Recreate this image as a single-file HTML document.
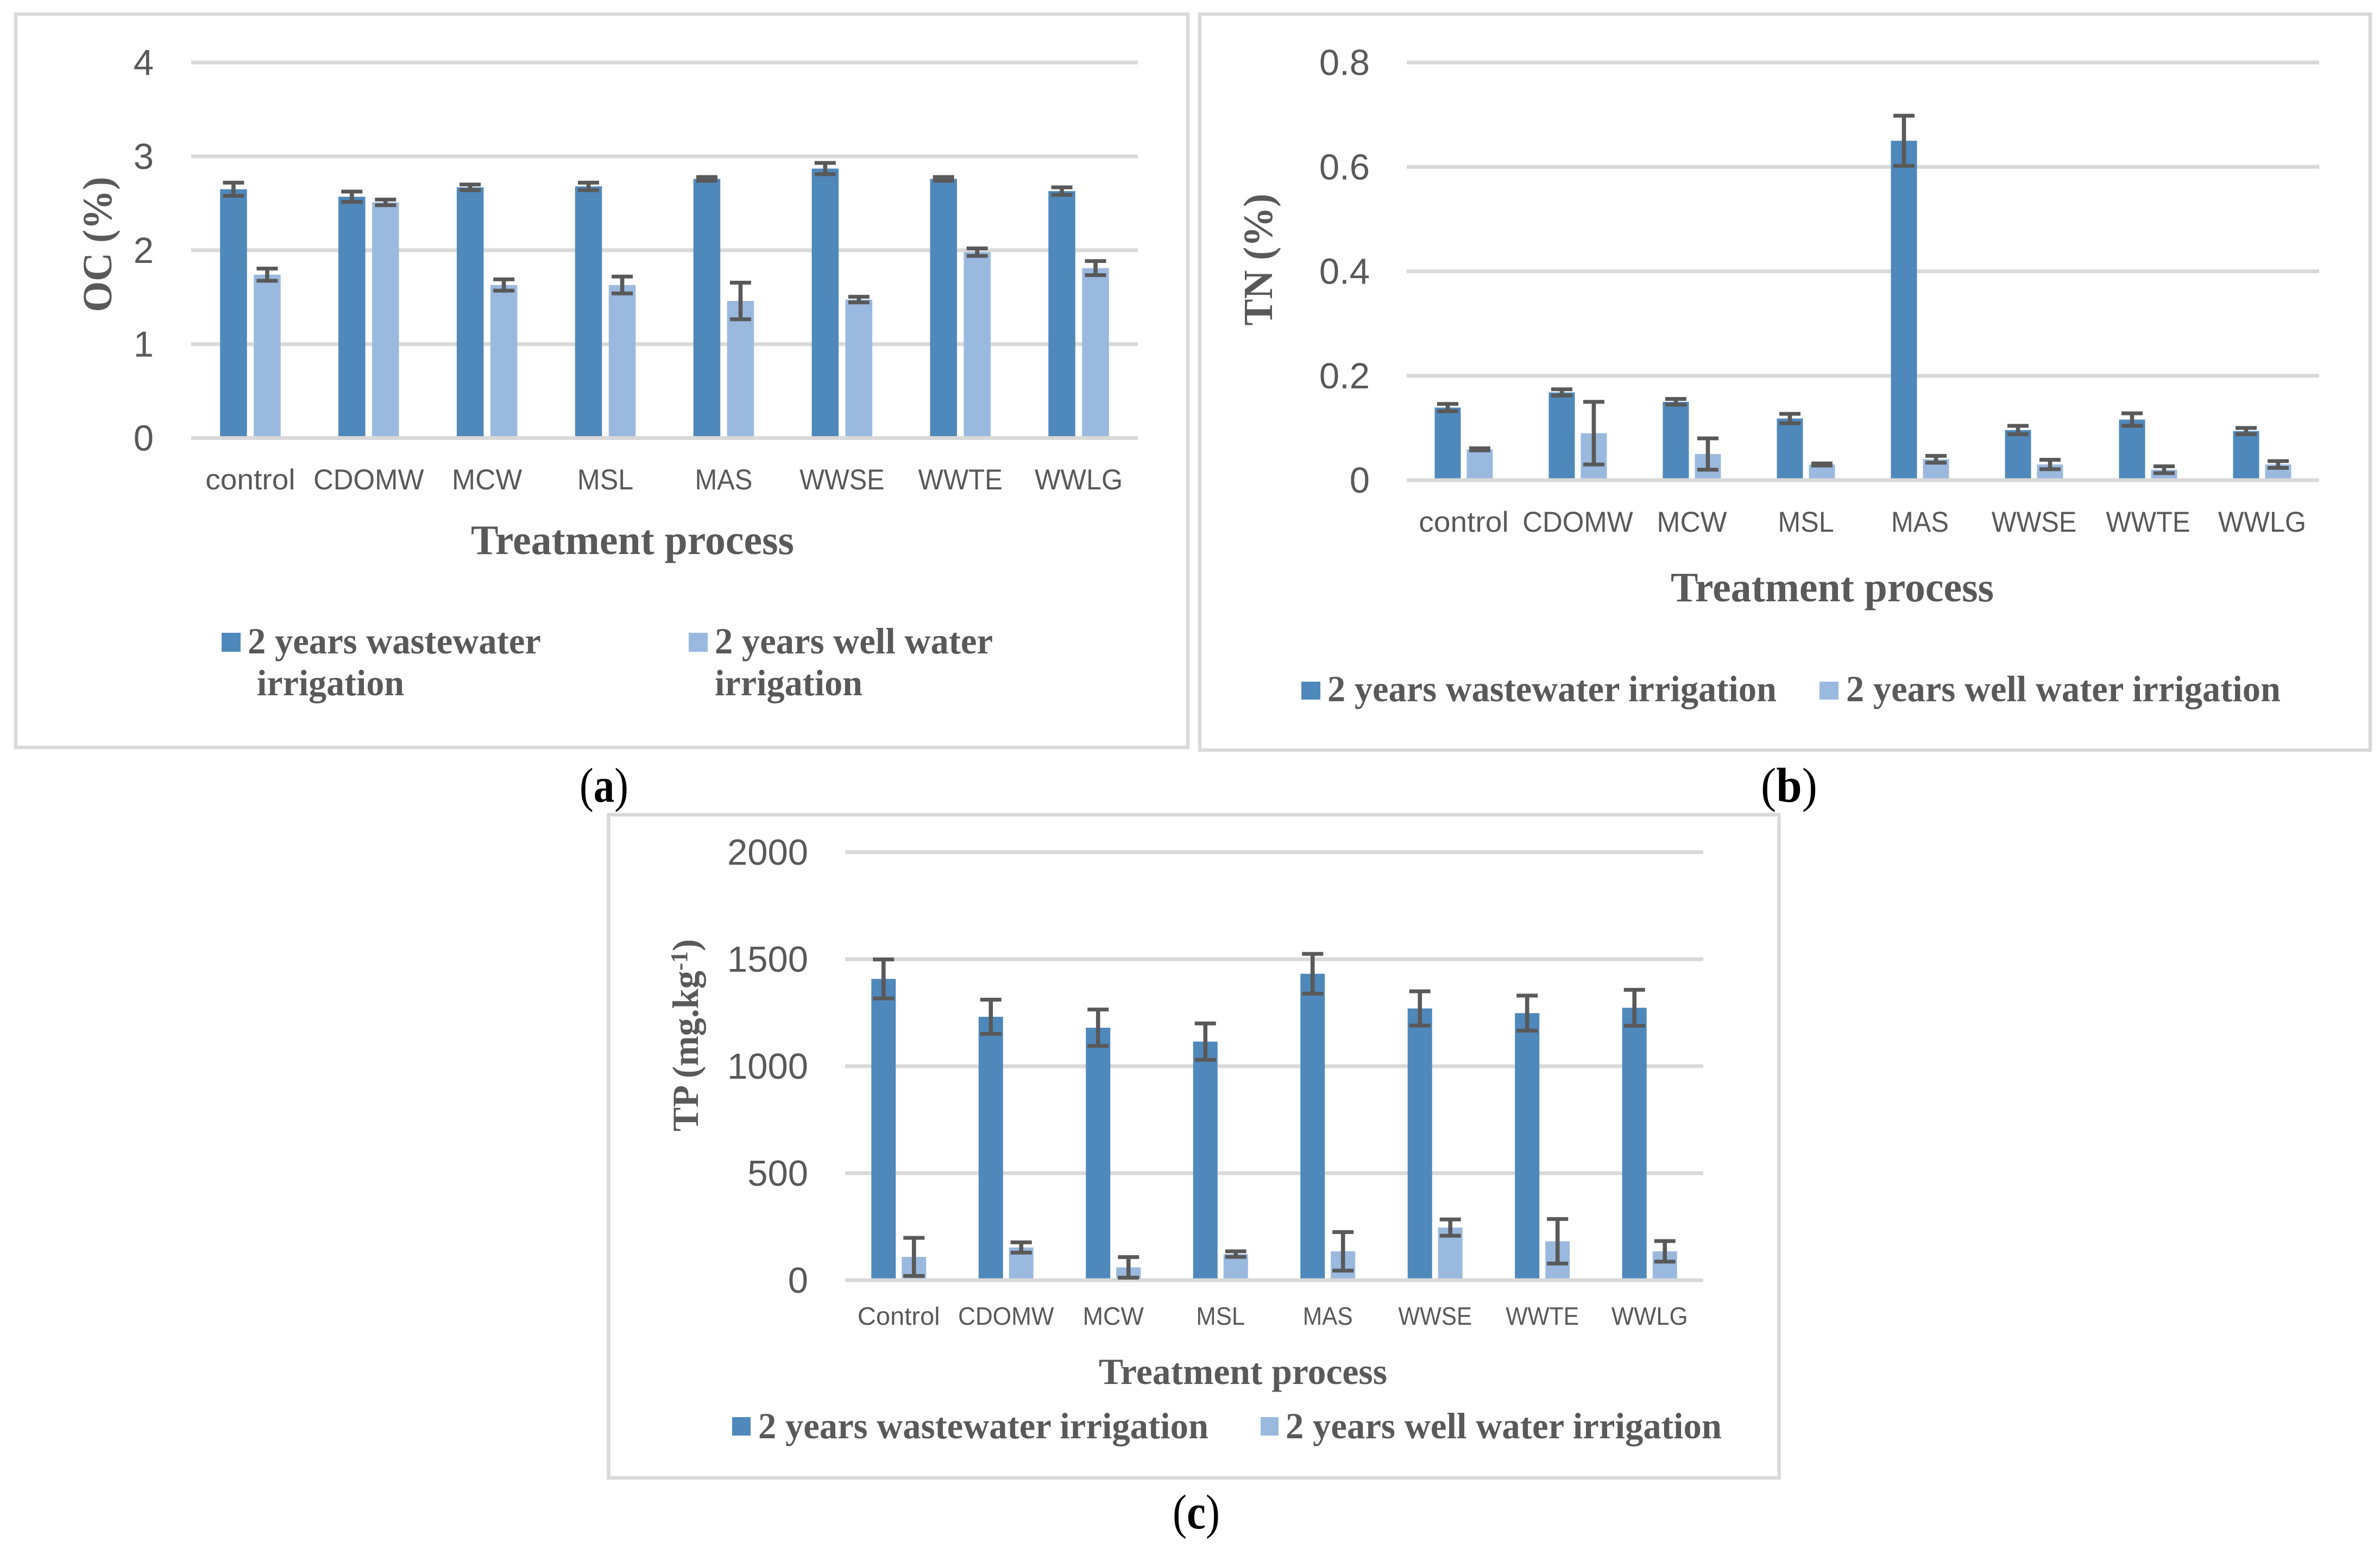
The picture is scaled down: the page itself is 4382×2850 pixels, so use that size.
<!DOCTYPE html>
<html lang="en">
<head>
<meta charset="utf-8">
<title>Soil OC, TN and TP by treatment process</title>
<style>
html,body{margin:0;padding:0;background:#fff;width:4382px;height:2850px;overflow:hidden}
svg{display:block}
.frame{fill:#fff;stroke:#d9d9d9;stroke-width:6.5}
.title{font-family:"Liberation Serif",serif;font-weight:700;fill:#595959}
.cap{font-family:"Liberation Serif",serif;fill:#000}
.tick{font-family:"Liberation Sans",sans-serif;fill:#595959}
</style>
</head>
<body>
<svg id="figure" xmlns="http://www.w3.org/2000/svg" width="4382" height="2850" viewBox="0 0 4382 2850">
  <rect width="4382" height="2850" fill="#fff"/>

  <g id="panel-a">
    <rect class="frame" x="29" y="26" width="2158" height="1350"/>
    <g id="plot-a"></g>
    <text class="title" transform="translate(205,450) rotate(-90)" text-anchor="middle" font-size="76" textLength="249" lengthAdjust="spacingAndGlyphs">OC (%)</text>
    <text class="title" x="867" y="1020" font-size="77" textLength="595" lengthAdjust="spacingAndGlyphs">Treatment process</text>
    <rect x="408" y="1165" width="35" height="35" fill="#4f88bb"/>
    <text class="title" x="456" y="1203" font-size="68" textLength="540" lengthAdjust="spacingAndGlyphs">2 years wastewater</text>
    <text class="title" x="473" y="1280" font-size="68" textLength="271" lengthAdjust="spacingAndGlyphs">irrigation</text>
    <rect x="1268" y="1165" width="35" height="35" fill="#9ab9df"/>
    <text class="title" x="1316" y="1203" font-size="68" textLength="512" lengthAdjust="spacingAndGlyphs">2 years well water</text>
    <text class="title" x="1316" y="1280" font-size="68" textLength="272" lengthAdjust="spacingAndGlyphs">irrigation</text>
  </g>
  <text class="cap" x="1067" y="1476" font-size="90" textLength="90" lengthAdjust="spacingAndGlyphs">(<tspan font-weight="700">a</tspan>)</text>

  <g id="panel-b">
    <rect class="frame" x="2209" y="26" width="2155" height="1355"/>
    <g id="plot-b"></g>
    <text class="title" transform="translate(2342,478) rotate(-90)" text-anchor="middle" font-size="76" textLength="243" lengthAdjust="spacingAndGlyphs">TN (%)</text>
    <text class="title" x="3076" y="1107" font-size="77" textLength="595" lengthAdjust="spacingAndGlyphs">Treatment process</text>
    <rect x="2396" y="1255" width="35" height="33" fill="#4f88bb"/>
    <text class="title" x="2444" y="1291" font-size="68" textLength="827" lengthAdjust="spacingAndGlyphs">2 years wastewater irrigation</text>
    <rect x="3350" y="1255" width="35" height="33" fill="#9ab9df"/>
    <text class="title" x="3399" y="1291" font-size="68" textLength="800" lengthAdjust="spacingAndGlyphs">2 years well water irrigation</text>
  </g>
  <text class="cap" x="3242" y="1476" font-size="90" textLength="104" lengthAdjust="spacingAndGlyphs">(<tspan font-weight="700">b</tspan>)</text>

  <g id="panel-c">
    <rect class="frame" x="1120.5" y="1500" width="2155" height="1221"/>
    <g id="plot-c"></g>
    <text class="title" transform="translate(1285,1906) rotate(-90)" text-anchor="middle" font-size="68" textLength="354" lengthAdjust="spacingAndGlyphs">TP (mg.kg<tspan font-size="44" dy="-20">-1</tspan><tspan dy="20">)</tspan></text>
    <text class="title" x="2023" y="2548" font-size="68" textLength="531" lengthAdjust="spacingAndGlyphs">Treatment process</text>
    <rect x="1348" y="2609" width="34" height="34" fill="#4f88bb"/>
    <text class="title" x="1396" y="2648" font-size="68" textLength="829" lengthAdjust="spacingAndGlyphs">2 years wastewater irrigation</text>
    <rect x="2321" y="2609" width="33" height="34" fill="#9ab9df"/>
    <text class="title" x="2367" y="2648" font-size="68" textLength="803" lengthAdjust="spacingAndGlyphs">2 years well water irrigation</text>
  </g>
  <text class="cap" x="2159" y="2814" font-size="90" textLength="87" lengthAdjust="spacingAndGlyphs">(<tspan font-weight="700">c</tspan>)</text>
</svg>

<script>
// Panel (a) data: organic carbon, %
const categoriesA = ['control','CDOMW','MCW','MSL','MAS','WWSE','WWTE','WWLG'];
const wastewaterA = [2.65,2.57,2.67,2.68,2.76,2.87,2.76,2.63];
const wellA = [1.74,2.51,1.63,1.63,1.46,1.475,1.98,1.81];
const wastewaterErrA = [0.07,0.055,0.03,0.04,0.02,0.06,0.02,0.04];
const wellErrA = [0.065,0.03,0.06,0.09,0.195,0.03,0.04,0.075];
const ticksA = [0,1,2,3,4];

// Panel (b) data: total nitrogen, %
const categoriesB = ['control','CDOMW','MCW','MSL','MAS','WWSE','WWTE','WWLG'];
const wastewaterB = [0.139,0.168,0.15,0.118,0.65,0.096,0.116,0.094];
const wellB = [0.059,0.09,0.05,0.03,0.04,0.03,0.02,0.03];
const wastewaterErrB = [0.007,0.006,0.0055,0.009,0.048,0.008,0.012,0.006];
const wellErrB = [0.002,0.06,0.03,0.002,0.0065,0.009,0.0065,0.0065];
const ticksB = [0,0.2,0.4,0.6,0.8];

// Panel (c) data: total phosphorus, mg/kg
const categoriesC = ['Control','CDOMW','MCW','MSL','MAS','WWSE','WWTE','WWLG'];
const wastewaterC = [1408,1231,1180,1115,1432,1270,1248,1273];
const wellC = [109,153,60,122,135,246,182,135];
const wastewaterErrC = [91,80,85,85,93,80,82,84];
const wellErrC = [89,24,48,13,90,38,104,48];
const ticksC = [0,500,1000,1500,2000];

const SVG_NS = 'http://www.w3.org/2000/svg';
const DARK = '#4f88bb', LIGHT = '#9ab9df', INK = '#595959', GRID = '#d9d9d9';
// Horizontal fit of each label (the source typeface is narrower than Arial for caps), per em of font size
const LABEL_EM = {control:3.12, Control:3.3, CDOMW:3.84, MCW:2.44, MSL:1.95, MAS:2.0, WWSE:2.95, WWTE:2.93, WWLG:3.06};

function shape(parent, tag, attrs) {
  const el = document.createElementNS(SVG_NS, tag);
  for (const k in attrs) el.setAttribute(k, attrs[k]);
  parent.appendChild(el);
  return el;
}

function renderPanel(opts) {
  const root = document.getElementById(opts.target);
  const maxTick = opts.ticks[opts.ticks.length - 1];
  const yScale = v => opts.y0 + (opts.yTop - opts.y0) * v / maxTick;
  const band = (opts.x1 - opts.x0) / opts.categories.length;
  const xCenter = i => opts.x0 + band * (i + 0.5);

  opts.ticks.forEach(function (t) {
    const line = shape(root, 'rect', {x: opts.x0, y: yScale(t) - 3.5, width: opts.x1 - opts.x0, height: 7, fill: GRID});
    
    
    const lab = shape(root, 'text', {class: 'tick', x: opts.tickRight, y: yScale(t) + 23, 'text-anchor': 'end', 'font-size': 67});
    lab.textContent = String(t);
    
    
  });

  opts.categories.forEach(function (name, i) {
    const lab = shape(root, 'text', {class: 'tick', x: xCenter(i), y: opts.labelY, 'text-anchor': 'middle', 'font-size': opts.labelSize,
      textLength: (LABEL_EM[name] * opts.labelSize).toFixed(1), lengthAdjust: 'spacingAndGlyphs'});
    lab.textContent = name;
    
    

    [[opts.wastewater, opts.wastewaterErr, DARK, -1, 'wastewater'], [opts.well, opts.wellErr, LIGHT, 1, 'well']].forEach(function (s) {
      const value = s[0][i], err = s[1][i];
      const cx = xCenter(i) + s[3] * (opts.barW + opts.gap) / 2;
      const top = yScale(value);
      const bar = shape(root, 'rect', {x: cx - opts.barW / 2, y: top, width: opts.barW, height: opts.y0 - 3.5 - top, fill: s[2]});
      
      

      const group = shape(root, 'g', {fill: INK});
      
      
      const hi = yScale(value + err), lo = yScale(value - err);
      shape(group, 'rect', {x: cx - 3.8, y: hi, width: 7.6, height: lo - hi});
      shape(group, 'rect', {x: cx - 19.5, y: hi - 3.5, width: 39, height: 7});
      shape(group, 'rect', {x: cx - 19.5, y: lo - 3.5, width: 39, height: 7});
    });
  });
}

renderPanel({id: 'panel-a', target: 'plot-a', categories: categoriesA, wastewater: wastewaterA, well: wellA, wastewaterErr: wastewaterErrA, wellErr: wellErrA, ticks: ticksA,
  x0: 352, x1: 2095, y0: 806.5, yTop: 115, barW: 49.5, gap: 12.5, tickRight: 283, labelY: 901, labelSize: 53});
renderPanel({id: 'panel-b', target: 'plot-b', categories: categoriesB, wastewater: wastewaterB, well: wellB, wastewaterErr: wastewaterErrB, wellErr: wellErrB, ticks: ticksB,
  x0: 2590, x1: 4270, y0: 884, yTop: 115, barW: 48, gap: 11, tickRight: 2522, labelY: 979, labelSize: 53});
renderPanel({id: 'panel-c', target: 'plot-c', categories: categoriesC, wastewater: wastewaterC, well: wellC, wastewaterErr: wastewaterErrC, wellErr: wellErrC, ticks: ticksC,
  x0: 1556, x1: 3136, y0: 2357, yTop: 1569, barW: 45, gap: 11, tickRight: 1488, labelY: 2439, labelSize: 46});
</script>
</body>
</html>
